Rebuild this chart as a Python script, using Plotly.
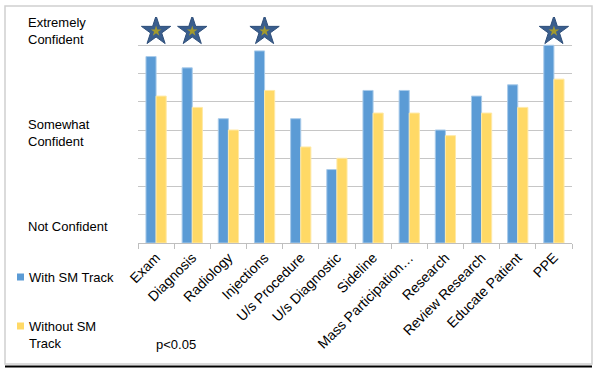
import plotly.graph_objects as go

categories = ["Exam", "Diagnosis", "Radiology", "Injections", "U/s Procedure",
              "U/s Diagnostic", "Sideline", "Mass Participation…", "Research",
              "Review Research", "Educate Patient", "PPE"]
with_sm = [6.6, 6.2, 4.4, 6.8, 4.4, 2.6, 5.4, 5.4, 4.0, 5.2, 5.6, 7.0]
without_sm = [5.2, 4.8, 4.0, 5.4, 3.4, 3.0, 4.6, 4.6, 3.8, 4.6, 4.8, 5.8]
significant = [True, True, False, True, False, False, False, False, False, False, False, True]
level_labels = ["Extremely<br>Confident", "Somewhat<br>Confident", "Not Confident"]
level_positions = [7.5, 3.9, 0.6]
STAR_LEVEL = 7.5

W, H = 600, 372
L, R, T, B = 138, 28, 17, 129
pw, ph = W - L - R, H - T - B

def px(x):
    return (x - L) / pw

def py(y):
    return (H - B - y) / ph

BLUE = "#5B9BD5"
YELLOW = "#FFD966"
FONT = "Liberation Sans, Arial, sans-serif"

fig = go.Figure()
fig.add_trace(go.Bar(x=categories, y=with_sm, name="With SM Track",
                     marker=dict(color=BLUE, line=dict(color="#A9CBEA", width=1))))
fig.add_trace(go.Bar(x=categories, y=without_sm, name="Without SM Track",
                     marker=dict(color=YELLOW, line=dict(color="#FFE9A6", width=1))))

star_x = [c for c, s in zip(categories, significant) if s]
star_y = [STAR_LEVEL] * len(star_x)
fig.add_trace(go.Scatter(x=star_x, y=star_y, mode="markers", showlegend=False,
                         hoverinfo="skip",
                         marker=dict(symbol="star", size=22, color="#3A5E8E",
                                     line=dict(color="#2F4F7A", width=1))))
fig.add_trace(go.Scatter(x=star_x, y=star_y, mode="markers", showlegend=False,
                         hoverinfo="skip",
                         marker=dict(symbol="star", size=8, color="#A39A2E",
                                     line=dict(width=0))))

annotations = []
for lab, pos in zip(level_labels, level_positions):
    annotations.append(dict(text=lab, x=px(26), xref="paper", y=pos, yref="y",
                            xanchor="left", yanchor="middle", align="left",
                            showarrow=False, font=dict(size=13, color="#000000", family=FONT)))

# manual legend
legend_items = [("With SM Track", BLUE, 277), ("Without SM<br>Track", YELLOW, 326)]
shapes = []
for text, col, yy in legend_items:
    shapes.append(dict(type="rect", xref="paper", yref="paper",
                       x0=px(17), x1=px(24), y0=py(yy + 3.5), y1=py(yy - 3.5),
                       fillcolor=col, line=dict(width=0)))
    annotations.append(dict(text=text, x=px(27), xref="paper",
                            y=py(yy - 9), yref="paper", xanchor="left", yanchor="top",
                            align="left", showarrow=False,
                            font=dict(size=13, color="#000000", family=FONT)))

annotations.append(dict(text="p<0.05", x=px(154), xref="paper", y=py(344), yref="paper",
                        xanchor="left", yanchor="middle", showarrow=False,
                        font=dict(size=13, color="#000000", family=FONT)))

# outer border
shapes.append(dict(type="rect", xref="paper", yref="paper",
                   x0=px(5), x1=px(592), y0=py(364), y1=py(6),
                   line=dict(color="#D0D0D0", width=1.5), fillcolor="rgba(0,0,0,0)", layer="below"))
shapes.append(dict(type="line", xref="paper", yref="paper",
                   x0=px(5), x1=px(592), y0=py(366.5), y1=py(366.5),
                   line=dict(color="#000000", width=2)))

fig.update_layout(
    width=W, height=H,
    margin=dict(l=L, r=R, t=T, b=B),
    paper_bgcolor="white", plot_bgcolor="white",
    barmode="group", bargap=0.44, bargroupgap=0,
    showlegend=False,
    font=dict(family=FONT, size=13, color="#000000"),
    annotations=annotations, shapes=shapes,
    xaxis=dict(type="category", range=[-0.5, len(categories) - 0.5],
               tickangle=-45, tickson="boundaries",
               ticks="outside", ticklen=5, tickcolor="#BFBFBF",
               showline=True, linecolor="#BFBFBF", linewidth=1,
               showgrid=False, tickfont=dict(size=14, family=FONT),
               automargin=False),
    yaxis=dict(range=[0, 8], dtick=1, showticklabels=False, ticks="",
               showgrid=True, gridcolor="#C6C6C6", gridwidth=1,
               zeroline=False, showline=False, automargin=False),
)

fig.write_html("out.html", config={"displayModeBar": False},
               post_script="document.body.style.margin='0';document.body.style.padding='0';")
